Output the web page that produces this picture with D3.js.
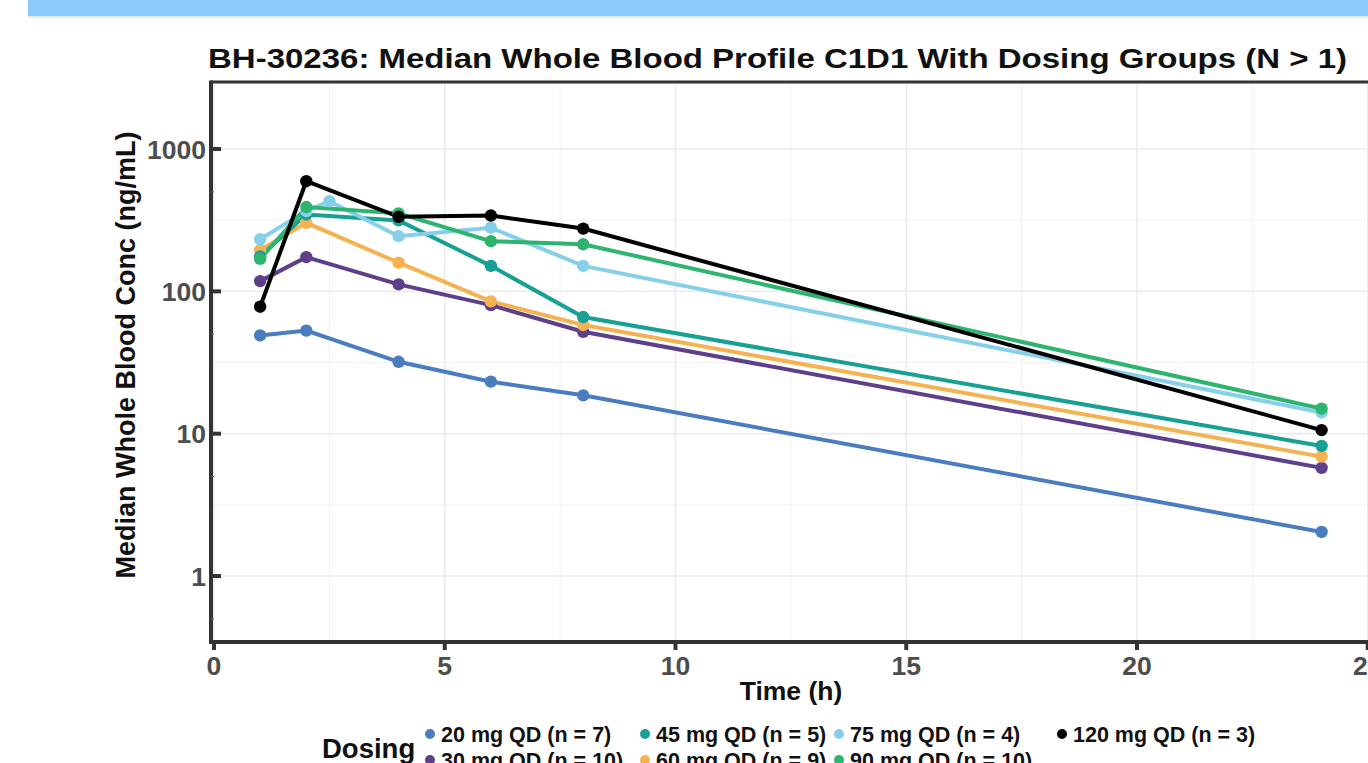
<!DOCTYPE html>
<html>
<head>
<meta charset="utf-8">
<script src="https://cdn.jsdelivr.net/npm/d3@7"></script>
<style>
  html, body { margin: 0; padding: 0; background: #fff; overflow: hidden; }
  svg { display: block; font-family: "Liberation Sans", Arial, sans-serif; }
</style>
</head>
<body>
<svg id="chart" width="1368" height="763"></svg>
<script>
// dosing groups, in legend order
const groups = ["20 mg QD (n = 7)", "30 mg QD (n = 10)", "45 mg QD (n = 5)", "60 mg QD (n = 9)",
                "75 mg QD (n = 4)", "90 mg QD (n = 10)", "120 mg QD (n = 3)"];
const colors = ["#4a7cc0", "#5d3f8b", "#17a094", "#f4b350", "#86cfeb", "#2db46e", "#000000"];

// sampling times (h) and median concentrations (ng/mL)
const times = [1, 2, 4, 6, 8, 24];
const times75 = [1, 2, 2.5, 4, 6, 8, 24];
const conc20 = [49, 53, 32, 23.2, 18.6, 2.04];
const conc30 = [118, 174, 112, 80, 52, 5.75];
const conc45 = [176, 347, 315, 151, 66, 8.2];
const conc60 = [195, 303, 159, 85, 58, 6.9];
const conc75 = [232, 366, 430, 244, 280, 151, 14.1];
const conc90 = [169, 391, 353, 225, 214, 15.0];
const conc120 = [78, 594, 334, 341, 276, 10.6];

const xTicks = [0, 5, 10, 15, 20, 25];
const xMinor = [2.5, 7.5, 12.5, 17.5, 22.5];
const yTicks = [1, 10, 100, 1000];
const yMinorGrid = [Math.sqrt(10), Math.sqrt(1000), Math.sqrt(100000)];
const yMinorTicks = [0.5, 5, 50, 500];

const series = [
  {name: groups[0], t: times, v: conc20},
  {name: groups[1], t: times, v: conc30},
  {name: groups[2], t: times, v: conc45},
  {name: groups[3], t: times, v: conc60},
  {name: groups[4], t: times75, v: conc75},
  {name: groups[5], t: times, v: conc90},
  {name: groups[6], t: times, v: conc120}
].map(s => ({name: s.name, pts: s.t.map((t, i) => ({t: t, v: s.v[i]}))}));

// draw order (120 mg on top)
const drawOrder = [0, 1, 3, 2, 4, 5, 6];

const svg = d3.select("#chart");
const color = d3.scaleOrdinal().domain(groups).range(colors);

const pLeft = 211, pTop = 82, pBottom = 642;
const x = d3.scaleLinear().domain([-0.065, 25.6]).range([pLeft, pLeft + 25.665 * 46.15]);
const y = d3.scaleLog().domain([0.344, 2956]).range([pBottom, pTop]);
const pRight = x.range()[1];

// top banner
svg.append("rect").attr("x", 28).attr("y", 0).attr("width", 1340).attr("height", 16).attr("fill", "#8acbfb");
svg.append("rect").attr("x", 28).attr("y", 16).attr("width", 1340).attr("height", 2).attr("fill", "#d8ecfa");

// grid
const grid = svg.append("g");
grid.selectAll(".xmin").data(xMinor).enter().append("line")
  .attr("x1", d => x(d)).attr("x2", d => x(d)).attr("y1", pTop).attr("y2", pBottom)
  .attr("stroke", "#f2f2f2").attr("stroke-width", 1);
grid.selectAll(".ymin").data(yMinorGrid).enter().append("line")
  .attr("x1", pLeft).attr("x2", pRight).attr("y1", d => y(d)).attr("y2", d => y(d))
  .attr("stroke", "#f2f2f2").attr("stroke-width", 1);
grid.selectAll(".xmaj").data(xTicks).enter().append("line")
  .attr("x1", d => x(d)).attr("x2", d => x(d)).attr("y1", pTop).attr("y2", pBottom)
  .attr("stroke", "#ebebeb").attr("stroke-width", 1.5);
grid.selectAll(".ymaj").data(yTicks).enter().append("line")
  .attr("x1", pLeft).attr("x2", pRight).attr("y1", d => y(d)).attr("y2", d => y(d))
  .attr("stroke", "#ebebeb").attr("stroke-width", 1.5);

// lines and points
const line = d3.line().x(d => x(d.t)).y(d => y(d.v));
const plot = svg.append("g");
drawOrder.forEach(i => {
  const s = series[i];
  plot.append("path").datum(s.pts)
    .attr("d", line).attr("fill", "none")
    .attr("stroke", color(s.name)).attr("stroke-width", 4);
});
drawOrder.forEach(i => {
  const s = series[i];
  plot.selectAll(null).data(s.pts).enter().append("circle")
    .attr("cx", d => x(d.t)).attr("cy", d => y(d.v)).attr("r", 6.2)
    .attr("fill", color(s.name));
});

// axes frame
svg.append("line").attr("x1", pLeft).attr("x2", pRight + 10).attr("y1", pTop).attr("y2", pTop)
  .attr("stroke", "#333").attr("stroke-width", 3);
svg.append("line").attr("x1", pLeft).attr("x2", pLeft).attr("y1", pTop - 1.5).attr("y2", pBottom + 2)
  .attr("stroke", "#333").attr("stroke-width", 4);
svg.append("line").attr("x1", pLeft - 2).attr("x2", pRight + 10).attr("y1", pBottom).attr("y2", pBottom)
  .attr("stroke", "#333").attr("stroke-width", 4);

// y ticks (inward) and labels
const yAx = svg.append("g");
yAx.selectAll(".yt").data(yTicks).enter().append("line")
  .attr("x1", pLeft).attr("x2", pLeft + 10).attr("y1", d => y(d)).attr("y2", d => y(d))
  .attr("stroke", "#333").attr("stroke-width", 4);
yAx.selectAll(".ym").data(yMinorTicks).enter().append("line")
  .attr("x1", pLeft).attr("x2", pLeft + 3).attr("y1", d => y(d)).attr("y2", d => y(d))
  .attr("stroke", "#666").attr("stroke-width", 1);
yAx.selectAll("text").data(yTicks).enter().append("text")
  .attr("x", pLeft - 5).attr("y", d => y(d) + 9.5).attr("text-anchor", "end")
  .attr("font-size", 26.5).attr("font-weight", "bold").attr("fill", "#4d4d4d")
  .text(d => d3.format("d")(d));

// x ticks and labels
const xAx = svg.append("g");
xAx.selectAll(".xt").data(xTicks).enter().append("line")
  .attr("x1", d => x(d)).attr("x2", d => x(d)).attr("y1", pBottom).attr("y2", pBottom + 8)
  .attr("stroke", "#333").attr("stroke-width", 4);
xAx.selectAll("text").data(xTicks).enter().append("text")
  .attr("x", d => x(d)).attr("y", 675).attr("text-anchor", "middle")
  .attr("font-size", 26.5).attr("font-weight", "bold").attr("fill", "#4d4d4d")
  .text(d => d);

// titles
svg.append("text").attr("x", 208).attr("y", 68)
  .attr("font-size", 28).attr("font-weight", "bold").attr("fill", "#111")
  .attr("textLength", 1139).attr("lengthAdjust", "spacingAndGlyphs")
  .text("BH-30236: Median Whole Blood Profile C1D1 With Dosing Groups (N > 1)");
svg.append("text").attr("transform", "translate(135,355) rotate(-90)")
  .attr("text-anchor", "middle").attr("font-size", 27).attr("font-weight", "bold").attr("fill", "#111")
  .text("Median Whole Blood Conc (ng/mL)");
svg.append("text").attr("x", 791).attr("y", 700).attr("text-anchor", "middle")
  .attr("font-size", 26.5).attr("font-weight", "bold").attr("fill", "#111")
  .text("Time (h)");

// legend (column-major, 2 rows)
const legend = svg.append("g");
legend.append("text").attr("x", 322).attr("y", 758)
  .attr("font-size", 27.5).attr("font-weight", "bold").attr("fill", "#111").text("Dosing");
const colX = [430, 645, 839, 1062];
const rowY = [734, 760];
groups.forEach((g, i) => {
  const cx = colX[Math.floor(i / 2)], cy = rowY[i % 2];
  legend.append("circle").attr("cx", cx).attr("cy", cy).attr("r", 5).attr("fill", color(g));
  legend.append("text").attr("x", cx + 11).attr("y", cy + 7.5)
    .attr("font-size", 21.5).attr("font-weight", "bold").attr("fill", "#111").text(g);
});
</script>
</body>
</html>
